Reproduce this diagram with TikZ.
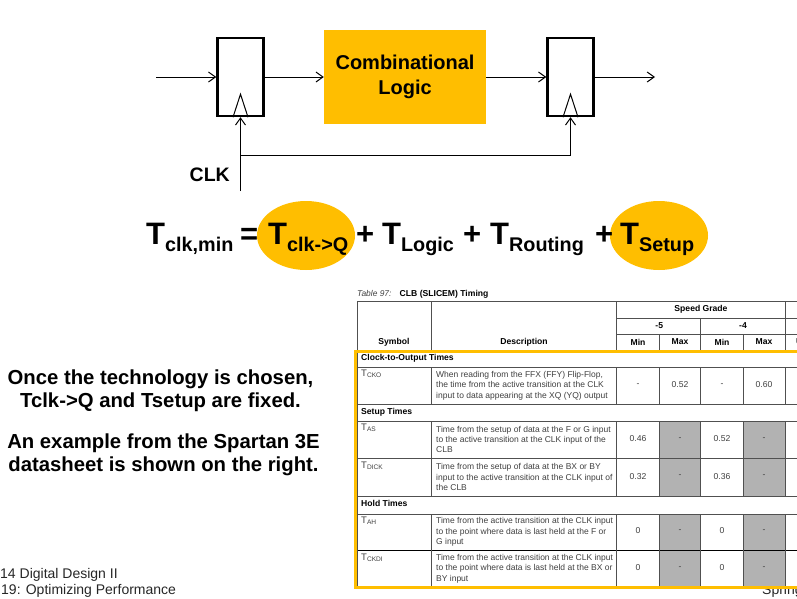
\documentclass[tikz,border=0pt]{standalone}
\usepackage{fontspec}
\setmainfont{Liberation Sans}
\usetikzlibrary{arrows.meta}
\definecolor{xilgold}{HTML}{FFBE00}
\definecolor{cellgray}{HTML}{B2B2B2}
\definecolor{rulegray}{HTML}{505050}
\definecolor{tabletext}{HTML}{404040}
\newcommand{\Tbig}[1]{{\bfseries\fontsize{31}{31}\selectfont T\raisebox{-7.5pt}{\fontsize{19.8}{21}\selectfont #1}}}
\newcommand{\Tcell}[1]{T\raisebox{-1.8pt}{\fontsize{6.6}{7}\selectfont #1}}
\tikzset{
	wire/.style={line width=1pt, -{Straight Barb[length=7pt,width=10pt]}},
	flop/.style={draw, line width=2.4pt, minimum width=46pt, minimum height=78pt, inner sep=0pt},
	logicbox/.style={fill=xilgold, minimum width=162pt, minimum height=94pt, align=center, inner sep=0pt, font=\bfseries\fontsize{20}{25}\selectfont},
	eqterm/.style={anchor=base west, inner sep=0pt},
	eqplus/.style={anchor=base west, inner sep=0pt, font=\bfseries\fontsize{31}{31}\selectfont},
	blurb/.style={align=center, inner sep=0pt, font=\bfseries\fontsize{20.3}{23.5}\selectfont},
	foot/.style={anchor=base west, inner sep=0pt, text=black!85, font=\fontsize{14}{14}\selectfont},
	rule/.style={color=rulegray, line width=0.6pt},
	headcell/.style={inner sep=0pt, font=\bfseries\fontsize{8.6}{10}\selectfont},
	groupcell/.style={anchor=west, inner sep=0pt, font=\bfseries\fontsize{8.6}{10}\selectfont},
	desccell/.style={anchor=west, align=left, inner sep=0pt, text=tabletext, font=\fontsize{8.5}{10.3}\selectfont},
	symcell/.style={anchor=base west, inner sep=0pt, text=tabletext, font=\fontsize{9.5}{10}\selectfont},
	valcell/.style={inner sep=0pt, text=tabletext, font=\fontsize{8.6}{10}\selectfont},
}
\begin{document}
\begin{tikzpicture}[x=1pt, y=-1pt]
	\useasboundingbox (0, 0) rectangle (797, 598);
	\clip (0, 0) rectangle (797, 598);

	% registers and logic
	\node[flop] (ff1) at (240.5, 77) {};
	\node[flop] (ff2) at (570.5, 77) {};
	\node[logicbox] (logic) at (405, 77) {Combinational\\Logic};
	\coordinate (din) at (156, 77);
	\coordinate (dout) at (655, 77);
	\coordinate (clkin) at (240.5, 191);
	\coordinate (clkjoin) at (240.5, 155);
	\node[anchor=east, inner sep=0pt, font=\bfseries\fontsize{19.5}{20}\selectfont] (clklabel) at (230, 175) {CLK};

	\draw[wire] (din) -- (ff1.west);
	\draw[wire] (ff1.east) -- (logic.west);
	\draw[wire] (logic.east) -- (ff2.west);
	\draw[wire] (ff2.east) -- (dout);
	\draw[wire] (clkin) -- (ff1.south);
	\draw[wire] (clkjoin) -| (ff2.south);

	\draw[line width=1pt] (ff1.south) ++(-7.5, 0) -- ++(7.5, -23) -- ++(7.5, 23);
	\draw[line width=1pt] (ff2.south) ++(-7.5, 0) -- ++(7.5, -23) -- ++(7.5, 23);

	% timing equation
	\fill[color=xilgold] (306, 235.5) ellipse (49 and 34.5);
	\fill[color=xilgold] (659, 235.5) ellipse (49 and 34.5);
	\node[eqterm] (tclk) at (146, 244) {\Tbig{clk,min}};
	\node[eqplus] (eqsign) at (240, 244) {=};
	\node[eqterm] (tcq) at (268, 244) {\Tbig{clk->Q}};
	\node[eqplus] (plus1) at (356, 244) {+};
	\node[eqterm] (tlogic) at (382, 244) {\Tbig{Logic}};
	\node[eqplus] (plus2) at (463, 244) {+};
	\node[eqterm] (trouting) at (490, 244) {\Tbig{Routing}};
	\node[eqplus] (plus3) at (595, 244) {+};
	\node[eqterm] (tsetup) at (620, 244) {\Tbig{Setup}};

	% side text
	\node[blurb] (blurb1) at (160.5, 390.5) {Once the technology is chosen,\\Tclk->Q and Tsetup are fixed.};
	\node[blurb] (blurb2) at (163.5, 455) {An example from the Spartan 3E\\datasheet is shown on the right.};
	\node[foot] (foot1) at (0, 578) {14 Digital Design II};
	\node[foot] (foot2) at (1, 594) {19: Optimizing Performance};
	\node[foot] (foot3) at (762, 594) {Spring};

	% datasheet table
	\fill[color=white] (357, 301) rectangle (797, 587);
	\node[anchor=base west, inner sep=0pt, text=tabletext, font=\itshape\fontsize{8.4}{9}\selectfont] (tabno) at (357, 296) {Table 97:};
	\node[anchor=base west, inner sep=0pt, font=\bfseries\fontsize{8.6}{9}\selectfont] (tabname) at (399.5, 296) {CLB (SLICEM) Timing};

	\fill[color=cellgray] (659, 421) rectangle (700.7, 496);
	\fill[color=cellgray] (743, 421) rectangle (785.7, 496);
	\fill[color=cellgray] (659, 514) rectangle (700.7, 587);
	\fill[color=cellgray] (743, 514) rectangle (785.7, 587);

	\draw[rule] (357, 301) -- (797, 301);
	\draw[rule] (616.7, 318.3) -- (797, 318.3);
	\draw[rule] (616.7, 334.3) -- (797, 334.3);
	\draw[rule] (357, 367) -- (797, 367);
	\draw[rule] (357, 404) -- (797, 404);
	\draw[rule] (357, 421) -- (797, 421);
	\draw[rule] (357, 458) -- (797, 458);
	\draw[rule] (357, 496) -- (797, 496);
	\draw[rule] (357, 514) -- (797, 514);
	\draw[color=black, line width=0.8pt] (357, 550) -- (797, 550);
	\draw[rule] (357, 301) -- (357, 587);
	\draw[rule] (431.7, 301) -- (431.7, 351);
	\draw[rule] (431.7, 367) -- (431.7, 404);
	\draw[rule] (431.7, 421) -- (431.7, 496);
	\draw[rule] (431.7, 514) -- (431.7, 587);
	\draw[rule] (616.7, 301) -- (616.7, 351);
	\draw[rule] (616.7, 367) -- (616.7, 404);
	\draw[rule] (616.7, 421) -- (616.7, 496);
	\draw[rule] (616.7, 514) -- (616.7, 587);
	\draw[rule] (659, 334.3) -- (659, 351);
	\draw[rule] (659, 367) -- (659, 404);
	\draw[rule] (659, 421) -- (659, 496);
	\draw[rule] (659, 514) -- (659, 587);
	\draw[rule] (700.7, 318.3) -- (700.7, 351);
	\draw[rule] (700.7, 367) -- (700.7, 404);
	\draw[rule] (700.7, 421) -- (700.7, 496);
	\draw[rule] (700.7, 514) -- (700.7, 587);
	\draw[rule] (743, 334.3) -- (743, 351);
	\draw[rule] (743, 367) -- (743, 404);
	\draw[rule] (743, 421) -- (743, 496);
	\draw[rule] (743, 514) -- (743, 587);
	\draw[rule] (785.7, 301) -- (785.7, 351);
	\draw[rule] (785.7, 367) -- (785.7, 404);
	\draw[rule] (785.7, 421) -- (785.7, 496);
	\draw[rule] (785.7, 514) -- (785.7, 587);

	\node[headcell] (speed) at (701, 309) {Speed Grade};
	\node[headcell] (g5) at (659.3, 325.5) {-5};
	\node[headcell] (g4) at (743, 325.5) {-4};
	\node[headcell] (symhead) at (394, 342) {Symbol};
	\node[headcell] (deschead) at (524, 342) {Description};
	\node[headcell] (min5) at (638, 342) {Min};
	\node[headcell] (max5) at (680, 342) {Max};
	\node[headcell] (min4) at (722, 342) {Min};
	\node[headcell] (max4) at (764, 342) {Max};
	\node[headcell, anchor=west] (unithead) at (796, 342) {U};

	\node[groupcell] (clkgroup) at (361, 358.5) {Clock-to-Output Times};
	\node[groupcell] (setupgroup) at (361, 412.5) {Setup Times};
	\node[groupcell] (holdgroup) at (361, 503.5) {Hold Times};

	\node[symcell] (tcko) at (361, 376) {\Tcell{CKO}};
	\node[symcell] (tas) at (361, 430) {\Tcell{AS}};
	\node[symcell] (tdick) at (361, 468) {\Tcell{DICK}};
	\node[symcell] (tah) at (361, 523) {\Tcell{AH}};
	\node[symcell] (tckdi) at (361, 560) {\Tcell{CKDI}};

	\node[desccell] (dcko) at (436, 385.5) {When reading from the FFX (FFY) Flip-Flop,\\the time from the active transition at the CLK\\input to data appearing at the XQ (YQ) output};
	\node[desccell] (das) at (436, 439.5) {Time from the setup of data at the F or G input\\to the active transition at the CLK input of the\\CLB};
	\node[desccell] (ddick) at (436, 477) {Time from the setup of data at the BX or BY\\input to the active transition at the CLK input of\\the CLB};
	\node[desccell] (dah) at (436, 532) {Time from the active transition at the CLK input\\to the point where data is last held at the F or\\G input};
	\node[desccell] (dckdi) at (436, 568.5) {Time from the active transition at the CLK input\\to the point where data is last held at the BX or\\BY input};

	\node[valcell] (v11) at (638, 385) {-};
	\node[valcell] (v12) at (680, 385) {0.52};
	\node[valcell] (v13) at (722, 385) {-};
	\node[valcell] (v14) at (764, 385) {0.60};
	\node[valcell] (v21) at (638, 439) {0.46};
	\node[valcell] (v22) at (680, 439) {-};
	\node[valcell] (v23) at (722, 439) {0.52};
	\node[valcell] (v24) at (764, 439) {-};
	\node[valcell] (v31) at (638, 476.5) {0.32};
	\node[valcell] (v32) at (680, 476.5) {-};
	\node[valcell] (v33) at (722, 476.5) {0.36};
	\node[valcell] (v34) at (764, 476.5) {-};
	\node[valcell] (v41) at (638, 531) {0};
	\node[valcell] (v42) at (680, 531) {-};
	\node[valcell] (v43) at (722, 531) {0};
	\node[valcell] (v44) at (764, 531) {-};
	\node[valcell] (v51) at (638, 568) {0};
	\node[valcell] (v52) at (680, 568) {-};
	\node[valcell] (v53) at (722, 568) {0};
	\node[valcell] (v54) at (764, 568) {-};

	\draw[color=xilgold, line width=3pt] (805, 351.5) -- (355, 351.5) -- (355, 587.5) -- (805, 587.5);
\end{tikzpicture}
\end{document}
